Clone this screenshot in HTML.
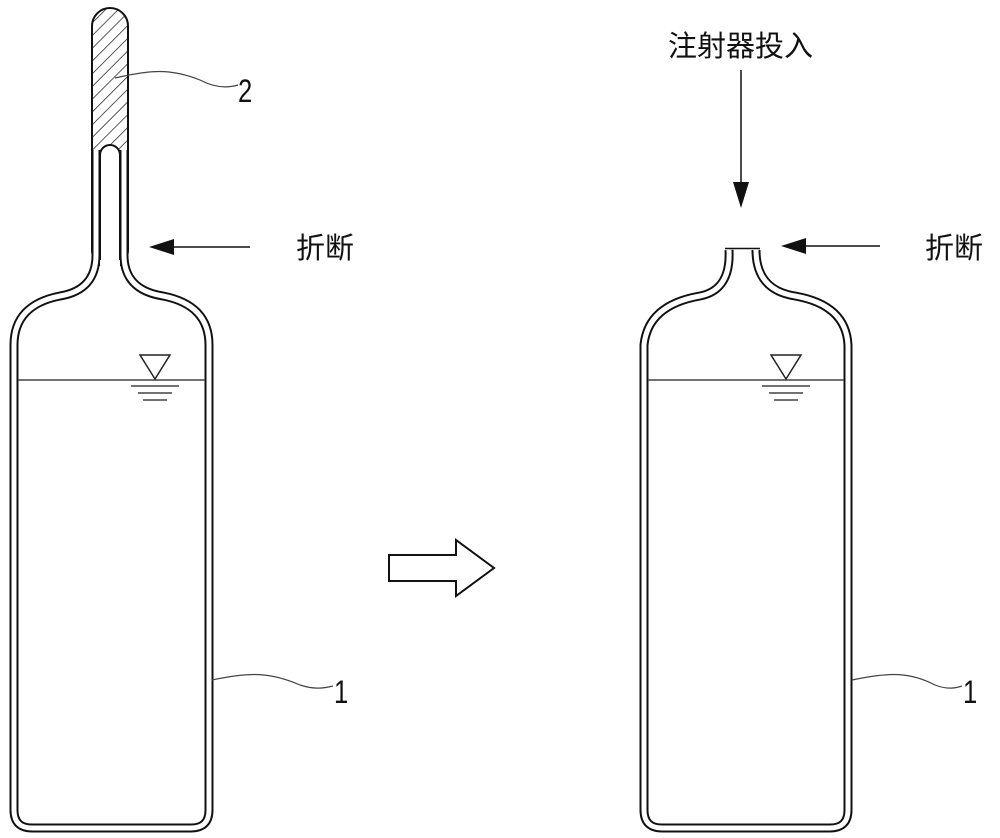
<!DOCTYPE html>
<html><head><meta charset="utf-8"><style>
html,body{margin:0;padding:0;background:#fff;}
svg{display:block;}
text{font-family:"Liberation Sans","Noto Sans CJK SC",sans-serif;fill:#111;}
</style></head><body>
<svg width="1000" height="838" viewBox="0 0 1000 838" xmlns="http://www.w3.org/2000/svg">
<defs>
<pattern id="h" width="9" height="9" patternUnits="userSpaceOnUse" patternTransform="rotate(45)">
<rect width="9" height="9" fill="#fff"/><line x1="0" y1="0" x2="0" y2="9" stroke="#222" stroke-width="1.5"/>
</pattern>
</defs>
<!-- LEFT bottle -->
<rect x="92" y="8" width="36" height="260" rx="18" fill="url(#h)" stroke="#111" stroke-width="2"/>
<path d="M96,150 L96,255 Q96,290 60,296 Q14,305 14,345 L14,810 Q14,828 32,828 L191,828 Q209,828 209,810 L209,345 Q209,305 163,296 Q124,290 124,255 L124,150" fill="none" stroke="#111" stroke-width="9"/>
<path d="M96,150 L96,255 Q96,290 60,296 Q14,305 14,345 L14,810 Q14,828 32,828 L191,828 Q209,828 209,810 L209,345 Q209,305 163,296 Q124,290 124,255 L124,150" fill="none" stroke="#fff" stroke-width="5"/>
<path d="M100,270 L100,155 A10,10 0 0 1 120,155 L120,270 Z" fill="#fff" stroke="none"/>
<path d="M100,260 L100,155 A10,10 0 0 1 120,155 L120,260" fill="none" stroke="#111" stroke-width="2"/>
<line x1="18" y1="380" x2="205" y2="380" stroke="#444" stroke-width="1.5"/>
<path d="M140,355 L170,355 L155,379 Z" fill="none" stroke="#222" stroke-width="1.5"/>
<line x1="131" y1="386" x2="179" y2="386" stroke="#444" stroke-width="1.5"/>
<line x1="138" y1="393" x2="172" y2="393" stroke="#444" stroke-width="1.5"/>
<line x1="143" y1="400" x2="167" y2="400" stroke="#444" stroke-width="1.5"/>
<path d="M115,78 C150,70 170,68 200,80 C215,88 228,88 238,85" fill="none" stroke="#444" stroke-width="1.2"/>
<text x="0" y="0" font-size="32" transform="translate(238,102) scale(0.8,1)">2</text>
<line x1="250" y1="247" x2="170" y2="247" stroke="#111" stroke-width="1.5"/>
<path d="M149,247 L174,239 L174,255 Z" fill="#111"/>
<text x="296" y="258" font-size="29">折断</text>
<path d="M212,680 C250,672 270,672 300,685 C315,690 325,688 333,686" fill="none" stroke="#444" stroke-width="1.2"/>
<text x="0" y="0" font-size="32" transform="translate(334,703) scale(0.8,1)">1</text>
<!-- big hollow arrow -->
<path d="M389,555 L456,555 L456,540 L494,568 L456,596 L456,581 L389,581 Z" fill="#fff" stroke="#111" stroke-width="2"/>
<!-- RIGHT bottle -->
<path d="M729,250 Q731,290 700,296 Q648,305 644,345 L644,810 Q644,828 662,828 L830,828 Q848,828 848,810 L848,345 Q846,305 795,296 Q756,290 756,250" fill="none" stroke="#111" stroke-width="9"/>
<path d="M729,250 Q731,290 700,296 Q648,305 644,345 L644,810 Q644,828 662,828 L830,828 Q848,828 848,810 L848,345 Q846,305 795,296 Q756,290 756,250" fill="none" stroke="#fff" stroke-width="5"/>
<line x1="725" y1="248.5" x2="760" y2="248.5" stroke="#111" stroke-width="1.5"/>
<line x1="648" y1="380" x2="844" y2="380" stroke="#444" stroke-width="1.5"/>
<path d="M771,355 L801,355 L786,379 Z" fill="none" stroke="#222" stroke-width="1.5"/>
<line x1="762" y1="386" x2="810" y2="386" stroke="#444" stroke-width="1.5"/>
<line x1="769" y1="393" x2="803" y2="393" stroke="#444" stroke-width="1.5"/>
<line x1="774" y1="400" x2="798" y2="400" stroke="#444" stroke-width="1.5"/>
<line x1="741" y1="70" x2="741" y2="185" stroke="#111" stroke-width="1.5"/>
<path d="M741,208 L733,182 L749,182 Z" fill="#111"/>
<text x="668" y="56" font-size="29">注射器投入</text>
<line x1="880" y1="246" x2="800" y2="246" stroke="#111" stroke-width="1.5"/>
<path d="M781,246 L806,238 L806,254 Z" fill="#111"/>
<text x="925" y="258" font-size="29">折断</text>
<path d="M852,680 C890,672 910,672 935,685 C948,690 956,688 962,686" fill="none" stroke="#444" stroke-width="1.2"/>
<text x="0" y="0" font-size="32" transform="translate(963,703) scale(0.8,1)">1</text>
</svg>
</body></html>
